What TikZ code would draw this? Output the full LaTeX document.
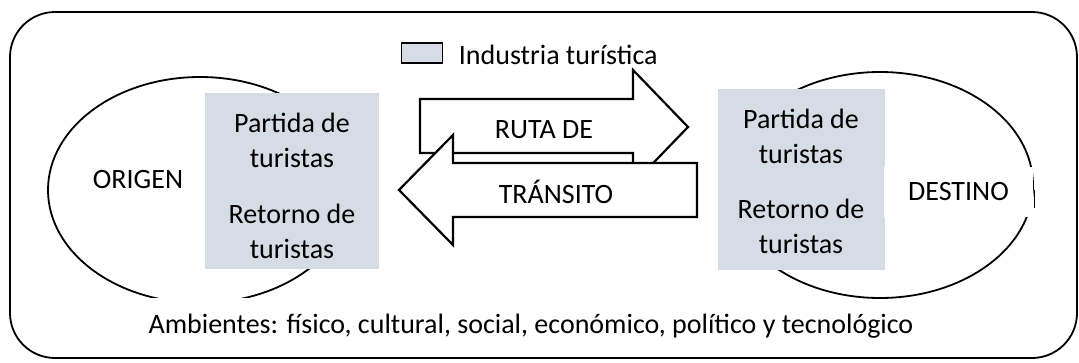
\documentclass[tikz,border=0pt]{standalone}
\usepackage{fontspec}
\setmainfont{Carlito}
\usetikzlibrary{shapes.geometric}
\definecolor{ind}{HTML}{D6DCE5}
\begin{document}
\begin{tikzpicture}[x=1pt,y=-1pt, line width=1.8pt,
  lbl/.style={font=\fontsize{28}{35}\selectfont, inner sep=0pt, align=center},
  graybox/.style={fill=ind, draw=none, inner sep=0pt, outer sep=0pt, anchor=north west},
  region/.style={draw, ellipse, inner sep=0pt},
  bigarrow/.style={draw=black, fill=white, line width=2.2pt, line join=miter}]
\useasboundingbox (0,0) rectangle (1079,362);
% outer environment frame
\draw[rounded corners=45pt] (10,12) rectangle (1077,358);
% origin and destination regions
\node[region, minimum width=304pt, minimum height=226pt] (origen) at (200,190) {};
\node[lbl, fill=white, minimum width=820pt, minimum height=56pt] (amb) at (531,326)
  {Ambientes: físico, cultural, social, económico, político y tecnológico};
\node[region, minimum width=306pt, minimum height=226pt] (destino) at (880,185) {};
% tourism industry boxes
\node[graybox, minimum width=174pt, minimum height=176pt] (gl) at (205,93) {};
\node[graybox, minimum width=167pt, minimum height=181pt] (gr) at (718,89) {};
\node[lbl, fill=white, minimum width=149pt, minimum height=50pt] (dlabel) at (958.5,192) {DESTINO};
\draw[line width=1pt] ([xshift=1pt,yshift=-16pt]dlabel.east) -- ([xshift=1pt,yshift=2pt]dlabel.east);
% transit arrows
\draw[bigarrow] (420,99) -- (633,99) -- (633,70) -- (688,127) -- (633,184) -- (633,153) -- (420,153) -- cycle;
\draw[bigarrow] (697,163) -- (453,163) -- (453,135) -- (399,190) -- (453,245) -- (453,217) -- (697,217) -- cycle;
\node[lbl] (ruta) at (544,130) {RUTA DE};
\node[lbl] (transito) at (556,192) {TRÁNSITO};
% labels
\node[lbl] (olabel) at (138,180) {ORIGEN};
\node[lbl] (pl) at (292,140) {Partida de\\turistas};
\node[lbl] (rl) at (292,231) {Retorno de\\turistas};
\node[lbl] (pr) at (801,136) {Partida de\\turistas};
\node[lbl] (rr) at (801,226) {Retorno de\\turistas};
% legend
\node[draw, fill=ind, line width=1.2pt, minimum width=41pt, minimum height=20pt, inner sep=0pt] (leg) at (422,53) {};
\node[lbl, anchor=west] (legt) at (458,55) {Industria turística};
\end{tikzpicture}
\end{document}
